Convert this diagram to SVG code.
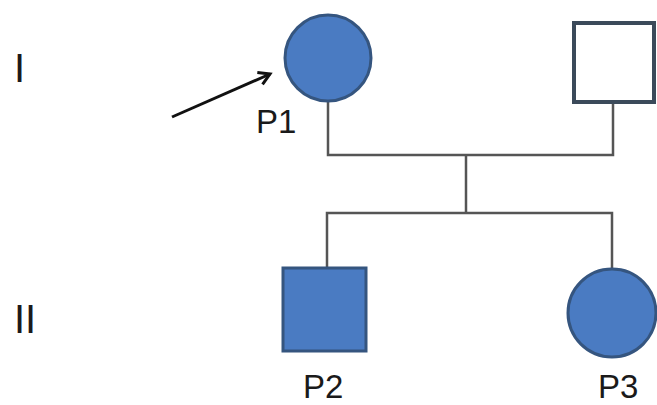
<svg xmlns="http://www.w3.org/2000/svg" width="657" height="405" viewBox="0 0 657 405">
<defs>
<style>
.aff{fill:#4a7bc2;stroke:#35557f;stroke-width:3}
.unaff{fill:#ffffff;stroke:#3b4a5a;stroke-width:4}
.ln{fill:none;stroke:#555555;stroke-width:2.5}
.lbl{font-family:"Liberation Sans",Arial,sans-serif;font-size:33px;fill:#1a1a1a}
.gen{font-family:"Liberation Sans",Arial,sans-serif;font-size:40px;fill:#1a1a1a}
</style>
<marker id="ah" markerWidth="16" markerHeight="16" refX="12" refY="8" orient="auto" markerUnits="userSpaceOnUse">
<path d="M1,1.5 L12,8 L1,14.5" fill="none" stroke="#111" stroke-width="3"/>
</marker>
</defs>
<rect width="657" height="405" fill="#ffffff"/>
<g id="connectors">
<path class="ln" d="M328,101 V155 H613 V103"/>
<path class="ln" d="M466,155 V213"/>
<path class="ln" d="M327,268 V213 H612 V268"/>
<path d="M172,117 L270,74" fill="none" stroke="#111" stroke-width="3" marker-end="url(#ah)"/>
</g>
<g id="gen-I"><text class="gen" x="14" y="82">I</text></g>
<g id="gen-II"><text class="gen" x="14" y="333">II</text></g>
<g id="P1">
<circle class="aff" cx="328" cy="58" r="43"/>
<text class="lbl" x="256" y="133">P1</text>
</g>
<g id="I-2">
<rect class="unaff" x="574" y="23" width="80" height="79"/>
</g>
<g id="P2">
<rect class="aff" x="283" y="268" width="83" height="83"/>
<text class="lbl" x="303" y="398">P2</text>
</g>
<g id="P3">
<circle class="aff" cx="612" cy="313" r="44"/>
<text class="lbl" x="598" y="398">P3</text>
</g>
</svg>
